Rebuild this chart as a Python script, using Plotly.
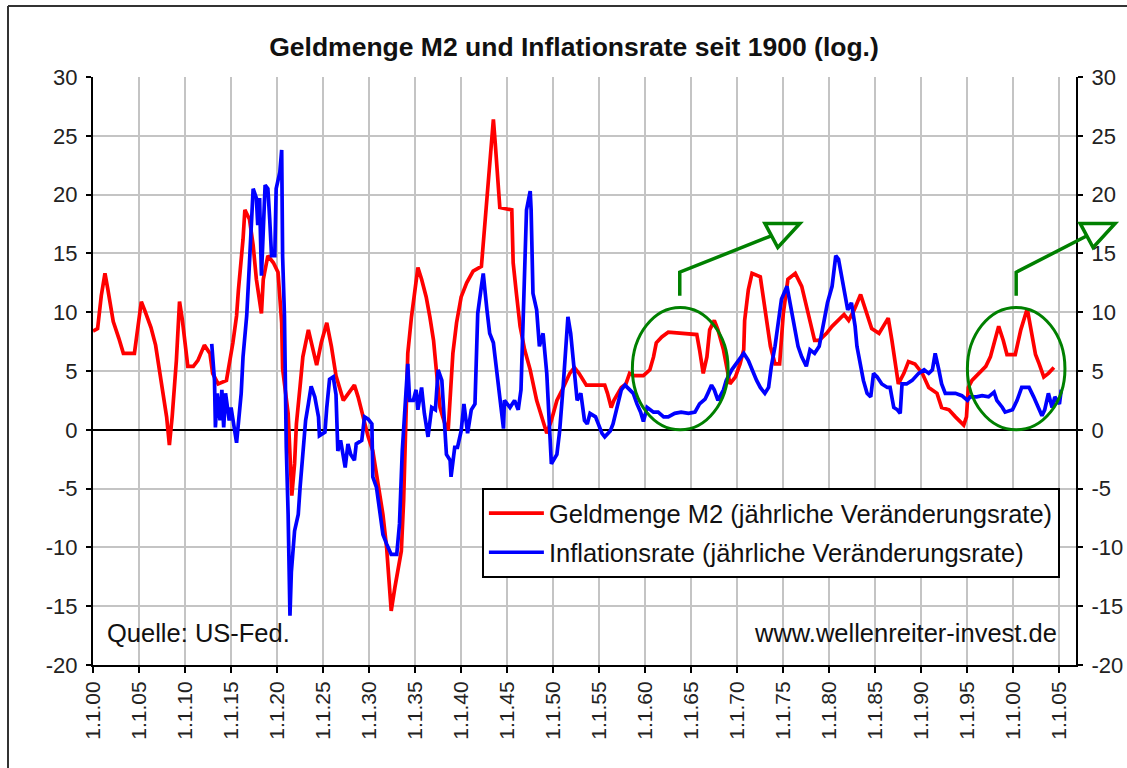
import plotly.graph_objects as go

# ---------------- data ----------------
m2_years = [1900.0, 1900.5, 1900.9, 1901.3, 1901.6, 1902.2, 1902.8, 1903.3, 1904.5, 1905.25, 1905.6,
            1906.3, 1906.8, 1907.25, 1908.0, 1908.3, 1908.6, 1909.06, 1909.4, 1909.7, 1910.3, 1910.9,
            1911.4, 1912.1, 1912.7, 1913.0, 1913.6, 1914.5, 1915.2, 1915.6, 1915.8, 1916.3, 1916.5,
            1917.0, 1917.4, 1917.75, 1918.3, 1918.5, 1919.0, 1919.6, 1920.1, 1920.5, 1920.6, 1921.2,
            1921.4, 1921.6, 1921.9, 1922.1, 1922.5, 1922.8, 1923.4, 1923.7, 1924.3, 1924.8, 1925.4,
            1925.9, 1926.4, 1927.2, 1927.8, 1928.4, 1928.8, 1929.3, 1929.9, 1930.4, 1930.8, 1931.2,
            1931.5, 1931.9, 1932.2, 1932.4, 1932.8, 1933.2, 1933.5, 1933.75, 1933.9, 1934.0, 1934.2,
            1934.6, 1935.0, 1935.3, 1935.7, 1936.2, 1936.6, 1937.0, 1937.3, 1937.7, 1938.0, 1938.4,
            1938.6, 1938.8, 1939.1, 1939.5, 1940.0, 1940.6, 1941.3, 1942.2, 1942.45, 1942.75, 1943.0,
            1943.3, 1943.5, 1943.7, 1944.0, 1944.2, 1945.5, 1945.65, 1946.0, 1946.4, 1946.9, 1947.5,
            1948.2, 1948.7, 1949.3, 1949.8, 1950.4, 1951.1, 1951.8, 1952.3, 1952.8, 1953.6, 1955.6,
            1955.9, 1956.3, 1956.6, 1957.4, 1957.9, 1958.3, 1958.8, 1959.8, 1960.5, 1960.9, 1961.2,
            1961.8, 1962.5, 1963.9, 1965.6, 1965.9, 1966.3, 1966.7, 1967.0, 1967.5, 1967.9, 1968.5,
            1968.9, 1969.2, 1969.8, 1970.3, 1970.7, 1970.8, 1971.2, 1971.6, 1972.5, 1972.8, 1973.2,
            1973.6, 1974.1, 1974.6, 1975.0, 1975.5, 1976.3, 1977.0, 1977.7, 1978.4, 1978.9, 1979.7,
            1980.3, 1981.6, 1982.1, 1982.7, 1983.4, 1983.9, 1984.6, 1985.4, 1985.9, 1986.4, 1986.8,
            1987.2, 1987.5, 1988.1, 1988.6, 1989.3, 1990.1, 1990.8, 1991.7, 1992.2, 1993.0, 1993.7,
            1994.6, 1994.9, 1995.1, 1995.5, 1996.2, 1997.0, 1997.5, 1998.0, 1998.4, 1998.9, 1999.3,
            2000.2, 2000.8, 2001.5, 2001.8, 2002.4, 2002.8, 2003.3, 2003.8, 2004.4]
m2_values = [8.4, 8.6, 11.4, 13.3, 12.0, 9.2, 7.8, 6.5, 6.5, 10.9, 10.2,
             8.7, 7.2, 4.9, 1.1, -1.3, 1.1, 5.9, 10.9, 9.4, 5.4, 5.4,
             5.9, 7.2, 6.5, 4.8, 3.9, 4.2, 7.4, 9.7, 11.9, 16.2, 18.7,
             17.9, 15.7, 12.8, 9.9, 12.8, 14.8, 14.2, 13.4, 9.1, 5.2, 1.4,
             -1.5, -5.6, -2.9, 0.5, 3.7, 6.2, 8.5, 7.4, 5.5, 7.4, 9.1,
             7.1, 4.6, 2.5, 3.1, 3.8, 2.8, 1.1, -0.6, -1.8, -3.8, -5.5,
             -7.2, -10.0, -13.4, -15.4, -13.4, -11.7, -10.3, -6.0, -1.8, 2.5, 6.5,
             9.6, 11.9, 13.8, 12.8, 11.3, 9.6, 7.6, 5.1, 1.9, 1.1, 0.1,
             0.1, 2.5, 6.5, 9.1, 11.3, 12.5, 13.5, 13.9, 16.2, 19.0, 21.0,
             24.4, 26.4, 24.4, 21.6, 18.9, 18.7, 14.2, 11.6, 8.8, 6.8, 5.1,
             2.5, 1.1, -0.3, 0.8, 2.5, 3.6, 4.8, 5.3, 4.8, 3.8, 3.8,
             3.1, 1.9, 2.5, 3.6, 3.9, 4.8, 4.6, 4.6, 5.1, 6.2, 7.4,
             7.9, 8.3, 8.2, 8.1, 6.8, 4.8, 6.2, 8.5, 9.3, 8.5, 6.8,
             5.1, 3.9, 4.5, 5.6, 6.8, 9.3, 11.9, 13.3, 13.0, 11.3, 9.1,
             7.1, 5.6, 5.6, 9.9, 12.8, 13.3, 12.2, 9.9, 7.6, 7.6, 8.2,
             8.8, 9.8, 9.3, 10.2, 11.5, 10.2, 8.6, 8.2, 8.8, 9.5, 7.6,
             5.6, 3.9, 4.8, 5.8, 5.6, 4.8, 3.6, 3.1, 1.9, 1.7, 1.1,
             0.4, 1.1, 3.6, 4.2, 4.8, 5.4, 6.2, 7.6, 8.8, 7.6, 6.4,
             6.4, 8.5, 10.3, 9.1, 6.4, 5.6, 4.5, 4.8, 5.3]

cpi_years = [1912.9, 1913.2, 1913.3, 1913.5, 1913.8, 1914.0, 1914.2, 1914.4, 1914.8, 1915.0, 1915.6,
             1915.9, 1916.1, 1916.3, 1916.7, 1917.0, 1917.2, 1917.4, 1917.75, 1917.9, 1918.1, 1918.3,
             1918.7, 1919.0, 1919.2, 1919.4, 1919.75, 1919.9, 1920.3, 1920.5, 1920.6, 1920.8, 1921.0,
             1921.2, 1921.4, 1921.55, 1921.9, 1922.3, 1922.5, 1922.8, 1923.1, 1923.4, 1923.7, 1924.1,
             1924.5, 1924.6, 1925.2, 1925.4, 1925.7, 1926.1, 1926.4, 1926.6, 1926.9, 1927.4, 1927.7,
             1928.0, 1928.4, 1928.6, 1929.2, 1929.5, 1929.9, 1930.3, 1930.4, 1930.8, 1931.2, 1931.5,
             1931.9, 1932.4, 1933.0, 1933.3, 1933.6, 1933.9, 1934.2, 1934.4, 1934.8, 1935.1, 1935.3,
             1935.7, 1936.0, 1936.4, 1936.8, 1937.2, 1937.5, 1937.9, 1938.3, 1938.4, 1938.8, 1938.9,
             1939.3, 1939.6, 1940.0, 1940.3, 1940.7, 1941.1, 1941.5, 1941.8, 1942.2, 1942.4, 1942.8,
             1943.1, 1943.5, 1943.8, 1944.2, 1944.6, 1944.7, 1945.3, 1945.8, 1946.2, 1946.5, 1946.7,
             1947.1, 1947.5, 1947.6, 1947.8, 1948.2, 1948.5, 1948.9, 1949.3, 1949.6, 1949.8, 1950.4,
             1950.7, 1951.1, 1951.6, 1951.9, 1952.2, 1952.6, 1953.0, 1953.4, 1953.7, 1954.0, 1954.6,
             1955.3, 1955.6, 1956.2, 1956.5, 1956.9, 1957.4, 1957.8, 1958.3, 1958.7, 1959.1, 1959.5,
             1959.8, 1960.2, 1960.9, 1961.4, 1962.0, 1962.5, 1963.2, 1963.9, 1964.7, 1965.4, 1965.9,
             1966.5, 1966.8, 1967.2, 1967.5, 1967.9, 1968.5, 1968.8, 1969.4, 1969.9, 1970.7, 1971.2,
             1971.6, 1972.1, 1972.5, 1973.0, 1973.4, 1973.7, 1974.1, 1974.5, 1974.8, 1975.4, 1975.9,
             1976.3, 1976.6, 1977.0, 1977.5, 1977.9, 1978.4, 1978.9, 1979.3, 1979.8, 1980.3, 1980.7,
             1981.0, 1981.4, 1981.7, 1982.0, 1982.4, 1982.8, 1983.0, 1983.4, 1983.7, 1984.1, 1984.5,
             1984.8, 1985.2, 1985.7, 1986.3, 1986.6, 1987.0, 1987.4, 1987.7, 1987.9, 1988.4, 1989.0,
             1989.7, 1990.3, 1990.8, 1991.2, 1991.5, 1991.9, 1992.2, 1992.6, 1993.7, 1994.4, 1995.0,
             1995.3, 1996.0, 1996.6, 1997.3, 1997.9, 1998.2, 1998.8, 1999.1, 1999.9, 2000.4, 2000.9,
             2001.7, 2002.2, 2002.8, 2003.1, 2003.4, 2003.8, 2004.2, 2004.5, 2005.0, 2005.2]
cpi_values = [7.3, 4.2, 0.2, 3.1, 0.8, 3.4, 0.2, 3.1, 0.8, 1.9, -1.1,
              1.4, 3.1, 6.2, 9.7, 14.2, 17.7, 20.5, 19.7, 17.4, 19.7, 13.1,
              20.8, 20.5, 17.9, 14.8, 14.8, 20.5, 21.9, 23.8, 14.8, 9.7, -1.5,
              -7.2, -15.8, -12.1, -8.6, -7.2, -4.9, -2.1, 0.8, 2.2, 3.7, 2.8,
              1.1, -0.5, -0.2, 1.9, 4.3, 4.5, 3.0, -1.8, -0.9, -3.2, -1.2,
              -2.1, -2.6, -1.2, -0.9, 1.1, 0.9, 0.5, -4.0, -4.9, -6.9, -8.9,
              -9.7, -10.6, -10.6, -8.0, -1.8, 1.4, 5.6, 2.5, 2.5, 3.4, 1.7,
              3.6, 1.4, -0.6, 1.9, 1.7, 5.1, 4.2, -0.1, -2.1, -2.6, -4.0,
              -1.5, -1.5, -0.1, 2.2, -0.3, 1.7, 2.2, 9.9, 12.2, 13.3, 10.2,
              8.2, 7.4, 5.4, 3.1, 0.1, 2.5, 1.9, 2.5, 1.7, 3.4, 8.2,
              18.7, 20.3, 18.7, 11.6, 10.2, 7.1, 8.2, 4.8, 0.2, -2.9, -2.1,
              -0.1, 3.9, 9.6, 8.2, 5.5, 2.5, 3.1, 0.8, 0.5, 1.4, 1.1,
              -0.3, -0.6, -0.1, 0.5, 1.9, 3.4, 3.8, 3.4, 3.1, 2.2, 1.5,
              0.7, 1.9, 1.5, 1.5, 1.1, 1.1, 1.4, 1.5, 1.4, 1.5, 2.2,
              2.6, 3.1, 3.8, 3.4, 2.5, 3.4, 4.2, 5.1, 5.6, 6.5, 5.9,
              5.1, 4.2, 3.6, 3.1, 3.6, 5.4, 7.1, 9.1, 11.1, 12.2, 10.2,
              8.2, 7.1, 6.2, 5.4, 6.8, 6.5, 7.1, 8.8, 10.8, 12.2, 14.8,
              14.5, 12.8, 11.3, 10.2, 10.8, 8.8, 7.1, 5.6, 4.2, 3.1, 2.8,
              4.8, 4.5, 3.9, 3.6, 3.6, 1.9, 1.7, 1.4, 3.9, 3.9, 4.2,
              4.8, 5.1, 4.8, 5.1, 6.5, 5.1, 3.9, 3.1, 3.1, 2.9, 2.5,
              2.8, 2.8, 2.9, 2.8, 3.2, 2.5, 1.9, 1.5, 1.7, 2.5, 3.6,
              3.6, 2.8, 1.7, 1.2, 1.7, 3.1, 1.9, 2.8, 2.2, 3.4]

tick_years = list(range(1900, 2006, 5))
tick_labels = ["1.1.%02d" % (y % 100) for y in tick_years]
y_ticks = list(range(-20, 31, 5))
y_tick_labels = [str(v) for v in y_ticks]

series_names = ["Geldmenge M2 (jährliche Veränderungsrate)",
                "Inflationsrate (jährliche Veränderungsrate)"]
title_text = "Geldmenge M2 und Inflationsrate seit 1900 (log.)"
source_text = "Quelle: US-Fed."
site_text = "www.wellenreiter-invest.de"

# highlighted periods (years, value range) and arrow geometry in data units
ellipses = [(1958.6, 1969.0, 0.0, 10.4), (1995.0, 2005.6, 0.0, 10.4)]
arrows = [
    # x_vert, y_start, y_corner, shaft end (x,y), tip (x,y), base A (x,y), base B (x,y)
    (1963.75, 11.4, 13.4, (1973.7, 16.5), (1976.8, 17.55), (1973.0, 17.55), (1974.4, 15.5)),
    (2000.3, 11.4, 13.4, (2008.0, 16.5), (2011.05, 17.55), (2007.25, 17.55), (2008.66, 15.5)),
]

# ---------------- figure ----------------
W, H = 1127, 768
L, R, T, B = 93, 51, 77, 103
X_RANGE = [1900, 2006.8]
Y_RANGE = [-20, 30]
FONT = "Liberation Sans, Arial, sans-serif"


def xp(year):
    return (year - X_RANGE[0]) / (X_RANGE[1] - X_RANGE[0])


def yp(val):
    return (val - Y_RANGE[0]) / (Y_RANGE[1] - Y_RANGE[0])


fig = go.Figure()
fig.add_trace(go.Scatter(x=m2_years, y=m2_values, mode="lines", name=series_names[0],
                         line=dict(color="#ff0000", width=3.7), legendgroup="a", yaxis="y"))
fig.add_trace(go.Scatter(x=cpi_years, y=cpi_values, mode="lines", name=series_names[1],
                         line=dict(color="#0000ff", width=3.7), legendgroup="b", yaxis="y2"))

axis_common = dict(range=Y_RANGE, tickvals=y_ticks, ticktext=y_tick_labels, ticks="outside",
                   ticklen=5, tickwidth=2, tickcolor="black", showline=True, linecolor="black",
                   linewidth=2, automargin=False, ticklabelstandoff=4,
                   tickfont=dict(family=FONT, size=22, color="#222"))

fig.update_layout(
    width=W, height=H,
    margin=dict(l=L, r=R, t=T, b=B),
    paper_bgcolor="white", plot_bgcolor="white",
    title=dict(text="<b>" + title_text + "</b>", x=574 / W, xanchor="center",
               y=1 - 47 / H, yanchor="middle",
               font=dict(family=FONT, size=26.5, color="#111")),
    xaxis=dict(range=X_RANGE, tickvals=tick_years, ticktext=tick_labels, tickangle=-90,
               ticks="outside", ticklen=6, tickwidth=2, tickcolor="black",
               showline=True, linecolor="black", linewidth=2, automargin=False,
               showgrid=True, gridcolor="#c4c4c4", gridwidth=2, zeroline=False,
               tickfont=dict(family=FONT, size=21, color="#222")),
    yaxis=dict(**axis_common, side="left", showgrid=True, gridcolor="#c4c4c4", gridwidth=2,
               zeroline=True, zerolinecolor="black", zerolinewidth=1.5),
    yaxis2=dict(**axis_common, side="right", overlaying="y", showgrid=False, zeroline=False),
    showlegend=True,
    legend=dict(x=xp(2005.05), xanchor="right", y=0.301, yanchor="top",
                bgcolor="white", bordercolor="black", borderwidth=2,
                font=dict(family=FONT, size=25.5, color="#111"),
                traceorder="grouped", tracegroupgap=3, itemwidth=55),
)

# annotations
fig.add_annotation(text=source_text, xref="paper", yref="paper", x=0.012, y=0.054,
                   xanchor="left", yanchor="middle", showarrow=False,
                   font=dict(family=FONT, size=25.5, color="#111"))
fig.add_annotation(text=site_text, xref="paper", yref="paper", x=xp(2005.0), y=0.054,
                   xanchor="right", yanchor="middle", showarrow=False,
                   font=dict(family=FONT, size=25.5, color="#111"))

GREEN = "#008000"
for (x0, x1, y0, y1) in ellipses:
    fig.add_shape(type="circle", xref="paper", yref="paper",
                  x0=xp(x0), x1=xp(x1), y0=yp(y0), y1=yp(y1),
                  line=dict(color=GREEN, width=3))
for (xv, ys, yc, shaft, tip, ba, bb) in arrows:
    path = "M %f,%f L %f,%f L %f,%f" % (xp(xv), yp(ys), xp(xv), yp(yc), xp(shaft[0]), yp(shaft[1]))
    fig.add_shape(type="path", xref="paper", yref="paper", path=path,
                  line=dict(color=GREEN, width=3.5))
    tri = "M %f,%f L %f,%f L %f,%f Z" % (xp(tip[0]), yp(tip[1]), xp(ba[0]), yp(ba[1]),
                                         xp(bb[0]), yp(bb[1]))
    fig.add_shape(type="path", xref="paper", yref="paper", path=tri,
                  line=dict(color=GREEN, width=3.5))

# outer frame (left and top edges of the original image frame)
pw = W - L - R
ph = H - T - B
fx0 = (8 - L) / pw
fy1 = (H - B - 6) / ph
fig.add_shape(type="line", xref="paper", yref="paper", x0=fx0, x1=fx0, y0=fy1, y1=-(B + 5) / ph,
              line=dict(color="#333", width=2))
fig.add_shape(type="line", xref="paper", yref="paper", x0=fx0, x1=(W + 5 - L) / pw, y0=fy1, y1=fy1,
              line=dict(color="#333", width=2))

fig.write_html("out.html", config={"displayModeBar": False},
               post_script="document.body.style.margin='0';document.body.style.overflow='hidden';")
